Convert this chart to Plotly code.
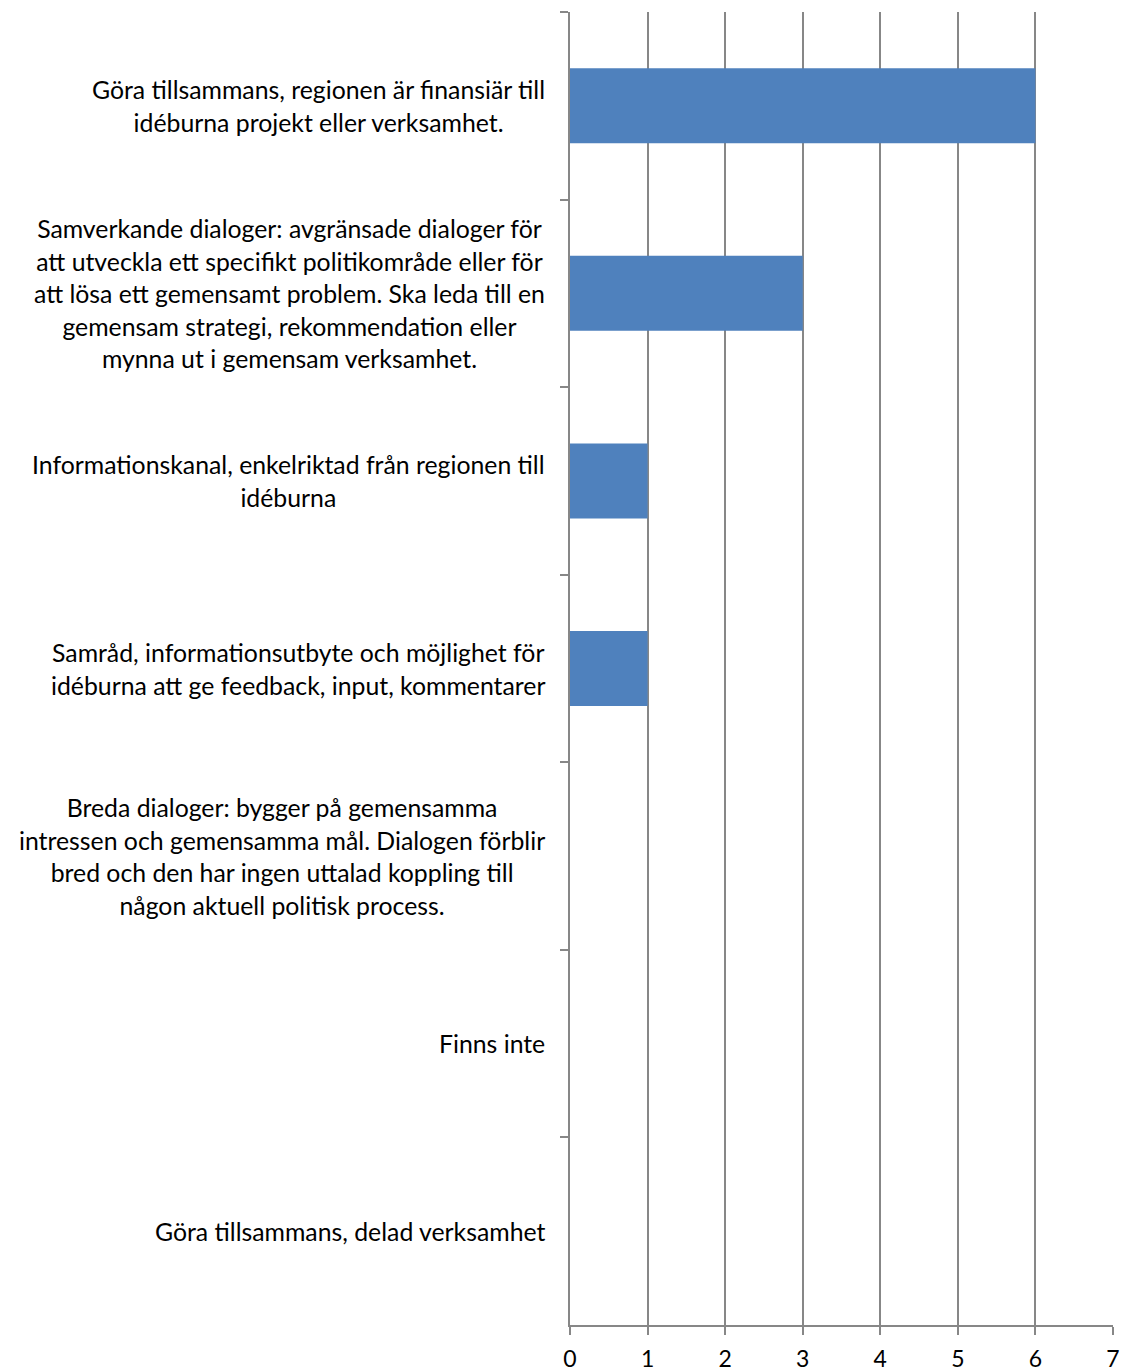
import plotly.graph_objects as go

categories = [
    "Göra tillsammans, regionen är finansiär till<br>idéburna projekt eller verksamhet.",
    "Samverkande dialoger: avgränsade dialoger för<br>att utveckla ett specifikt politikområde eller för<br>att lösa ett gemensamt problem. Ska leda till en<br>gemensam strategi, rekommendation eller<br>mynna ut i gemensam verksamhet.",
    "Informationskanal, enkelriktad från regionen till<br>idéburna",
    "Samråd, informationsutbyte och möjlighet för<br>idéburna att ge feedback, input, kommentarer",
    "Breda dialoger: bygger på gemensamma<br>intressen och gemensamma mål. Dialogen förblir<br>bred och den har ingen uttalad koppling till<br>någon aktuell politisk process.",
    "Finns inte",
    "Göra tillsammans, delad verksamhet",
]
values = [6, 3, 1, 1, 0, 0, 0]
x_ticks = [0, 1, 2, 3, 4, 5, 6, 7]

FONT = "Lato"
GRID = "#878787"

fig = go.Figure()
fig.add_trace(go.Bar(
    x=values, y=categories, orientation="h",
    marker=dict(color="#4F81BD", line=dict(width=0)),
    hoverinfo="skip",
))

for cat in categories:
    lines = cat.split("<br>")
    txt = "<br>".join(f'<span style="font-size:24.8px">{ln}</span>' for ln in lines)
    fig.add_annotation(
        x=0, xref="paper", y=cat, yref="y",
        xanchor="right", yanchor="middle", xshift=-23,
        text=txt, showarrow=False, align="center",
        font=dict(family=FONT, size=25, color="#000000"),
    )

fig.update_layout(
    width=1125, height=1372,
    margin=dict(l=570, r=12, t=12, b=47),
    paper_bgcolor="white", plot_bgcolor="white",
    showlegend=False, bargap=0.6,
    font=dict(family=FONT, size=23, color="#000000"),
)
fig.update_xaxes(
    range=[0, 7], tickvals=x_ticks, ticktext=[str(v) for v in x_ticks],
    showgrid=True, gridcolor=GRID, gridwidth=1.5,
    showline=True, linecolor=GRID, linewidth=1.5,
    ticks="outside", ticklen=8, tickcolor=GRID, tickwidth=1.5,
    ticklabelstandoff=5,
    zeroline=False, automargin=False,
    tickfont=dict(family=FONT, size=23, color="#000000"),
)
fig.update_yaxes(
    categoryorder="array", categoryarray=categories, autorange="reversed",
    showticklabels=False, showgrid=False,
    showline=True, linecolor=GRID, linewidth=1.5,
    ticks="outside", ticklen=8, tickcolor=GRID, tickwidth=1.5,
    tickson="boundaries", zeroline=False, automargin=False,
)

fig.write_html(
    "out.html",
    config={"displayModeBar": False},
    post_script="document.body.style.margin='0';document.body.style.overflow='hidden';",
)
